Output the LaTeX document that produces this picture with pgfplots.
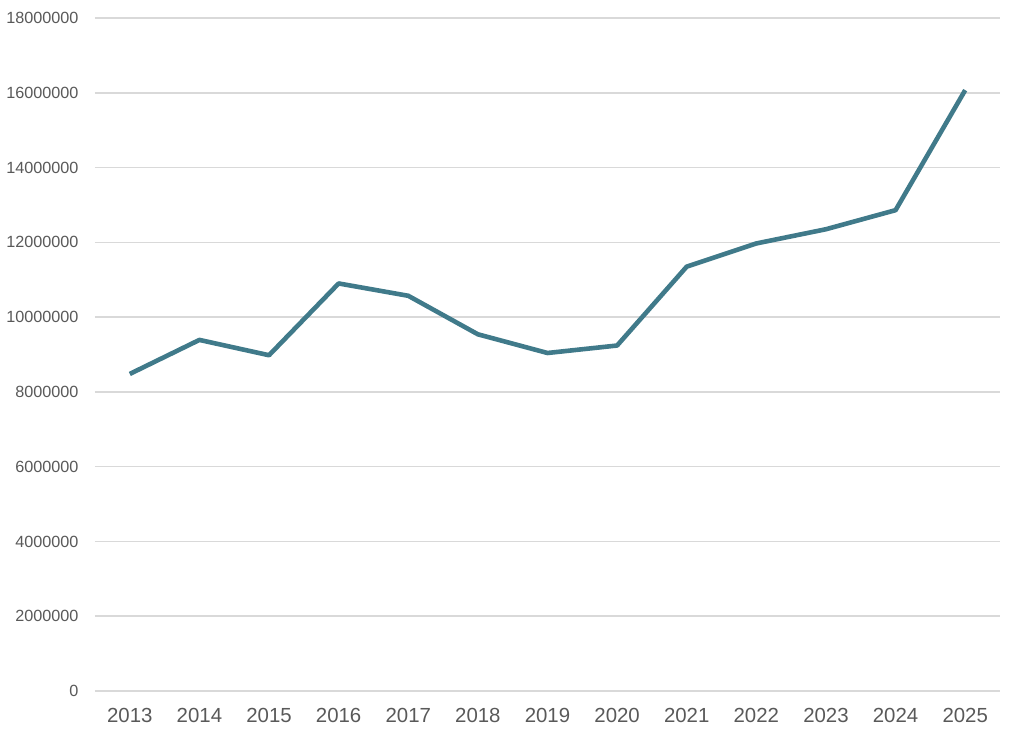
\documentclass[border=0pt]{standalone}
\usepackage{pgfplots}
\pgfplotsset{compat=1.18}
\usepackage{fontspec}
\setmainfont{Liberation Sans}
\definecolor{linec}{RGB}{64,122,138}
\definecolor{gridc}{RGB}{217,217,217}
\definecolor{txt}{RGB}{89,89,89}
\begin{document}
\begin{tikzpicture}
\begin{axis}[
  scale only axis,
  width=452.5pt, height=336.5pt,
  xmin=-0.5, xmax=12.5,
  ymin=0, ymax=18000000,
  ytick={0,2000000,4000000,6000000,8000000,10000000,12000000,14000000,16000000,18000000},
  yticklabels={0,2000000,4000000,6000000,8000000,10000000,12000000,14000000,16000000,18000000},
  xtick={0,...,12},
  xticklabels={2013,2014,2015,2016,2017,2018,2019,2020,2021,2022,2023,2024,2025},
  axis line style={draw=none},
  major tick length=0pt,
  ymajorgrids,
  grid style={gridc, line width=0.75pt},
  tick label style={text=txt},
  yticklabel style={font=\fontsize{8.1}{10}\selectfont, xshift=-4.8pt},
  xticklabel style={font=\fontsize{10.2}{12}\selectfont, yshift=-5pt},
  scaled y ticks=false,
  clip=false,
]
\addplot[linec, line width=2.3pt, line join=round] coordinates {
(0,8480000) (1,9390000) (2,8980000) (3,10900000) (4,10570000) (5,9540000)
(6,9040000) (7,9240000) (8,11350000) (9,11970000) (10,12350000) (11,12860000) (12,16070000)
};
\end{axis}
\pgfresetboundingbox
\path (-47.5pt,-23pt) rectangle (464.5pt,345.5pt);
\end{tikzpicture}
\end{document}
